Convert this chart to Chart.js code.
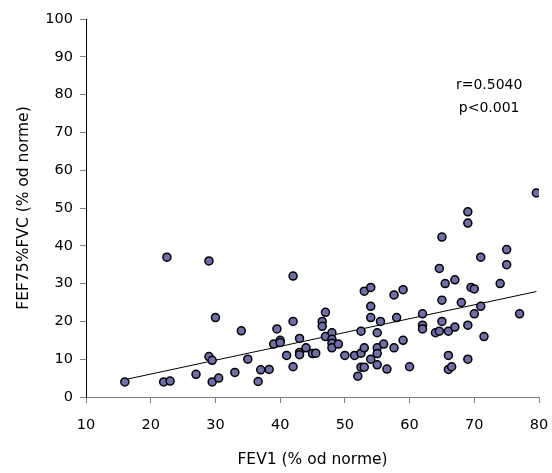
<!DOCTYPE html>
<html>
<head>
<meta charset="utf-8">
<script src="https://cdn.jsdelivr.net/npm/chart.js@4/dist/chart.umd.min.js"></script>
<style>
  html, body { margin: 0; padding: 0; background: #fff; }
  #wrap { width: 552px; height: 473px; }
</style>
</head>
<body>
<div id="wrap"><canvas id="scatter"></canvas></div>
<script>
// FEV1 (x) vs FEF75%FVC (y), both % od norme
const fev1 = [
  16, 22, 23, 22.5, 29, 30, 29, 29.5, 27, 29.5, 30.5, 33, 34, 35, 36.6, 37, 38.3,
  39, 39.5, 40, 40, 41, 42, 42, 42, 43, 43, 43, 44, 45, 45.5, 46.5, 46.5, 47, 47,
  48, 48, 48, 48, 49, 50, 51.5, 52, 52.5, 52.5, 53, 53, 52.5, 53, 54, 54, 54, 54,
  55, 55, 55, 55, 55.5, 56, 56.5, 57.6, 57.6, 58, 59, 59, 60, 62, 62, 62, 64,
  64.6, 64.6, 65, 65, 65, 65.5, 66, 66, 66, 66.5, 67, 67, 68, 69, 69, 69.5, 70,
  69, 69, 70, 71, 71, 71.5, 74, 75, 75, 77, 79.6
];
const fef75 = [
  4, 4, 4.2, 37, 36, 21, 10.7, 9.7, 6, 4, 5, 6.5, 17.5, 10, 4.1, 7.2, 7.3,
  14, 18, 15, 14.4, 11, 32, 20, 8, 15.5, 11.8, 11.2, 13, 11.5, 11.6, 20, 18.7, 22.4, 16,
  17, 15.3, 14.2, 13, 14, 11, 11, 5.5, 11.6, 7.9, 7.9, 13, 17.4, 28, 29, 24, 21, 10,
  17, 13, 11.5, 8.5, 20, 14, 7.4, 27, 13, 21, 28.4, 15, 8, 22, 19, 18, 17,
  17.4, 34, 42.3, 25.6, 20, 30, 17.4, 11, 7.3, 8, 31, 18.5, 25, 49, 46, 29, 28.6,
  19, 10, 22, 37, 24, 16, 30, 39, 35, 22, 54
];

// end points of the linear fit
const fitX = [16, 79.6];
const fitY = [4.6, 27.9];

const stats = ["r=0.5040", "p<0.001"];

const xTitle = "FEV1 (% od norme)";
const yTitle = "FEF75%FVC (% od norme)";

const points = fev1.map((x, i) => ({ x: x, y: fef75[i] }));
const fitLine = fitX.map((x, i) => ({ x: x, y: fitY[i] }));

const family = "'DejaVu Sans', Verdana, sans-serif";
const tickFont = { family: family, size: 14.5 };
const titleFont = { family: family, size: 15.5 };

// r / p text in the upper right of the plot
const statsText = {
  id: "statsText",
  afterDraw(chart) {
    const { ctx, scales } = chart;
    ctx.save();
    ctx.font = "14px " + family;
    ctx.fillStyle = "#000";
    ctx.textAlign = "center";
    ctx.textBaseline = "middle";
    const cx = scales.x.getPixelForValue(72.3);
    ctx.fillText(stats[0], cx, scales.y.getPixelForValue(82.4));
    ctx.fillText(stats[1], cx, scales.y.getPixelForValue(76.3));
    ctx.restore();
  }
};

new Chart(document.getElementById("scatter"), {
  type: "scatter",
  data: {
    datasets: [
      {
        type: "line",
        data: fitLine,
        borderColor: "#000",
        borderWidth: 1,
        pointRadius: 0,
        fill: false,
        order: 1
      },
      {
        data: points,
        backgroundColor: "rgb(110,110,168)",
        borderColor: "#000",
        borderWidth: 1.5,
        pointRadius: 4,
        order: 0
      }
    ]
  },
  options: {
    responsive: true,
    maintainAspectRatio: false,
    animation: false,
    layout: { padding: { top: 19, right: 13, left: 0, bottom: 0 } },
    plugins: {
      legend: { display: false },
      tooltip: { enabled: false }
    },
    scales: {
      x: {
        type: "linear",
        min: 10,
        max: 80,
        ticks: { stepSize: 10, color: "#000", font: tickFont, padding: 14, maxRotation: 0 },
        grid: { drawOnChartArea: false, drawTicks: true, tickLength: 6, color: "#808080" },
        border: { display: true, color: "#808080", width: 1 },
        title: { display: true, text: xTitle, color: "#000", font: titleFont, padding: { top: 0, bottom: 4 } },
        afterFit(scale) {
          scale.height = 76;
          scale.paddingLeft = 0;
          scale.paddingRight = 0;
        }
      },
      y: {
        min: 0,
        max: 100,
        ticks: { stepSize: 10, color: "#000", font: tickFont, padding: 7 },
        grid: { drawOnChartArea: false, drawTicks: true, tickLength: 6, color: "#808080" },
        border: { display: true, color: "#000", width: 1 },
        title: { display: true, text: yTitle, color: "#000", font: titleFont, padding: { top: 15, bottom: 0 } },
        afterFit(scale) {
          scale.width = 86;
          scale.paddingTop = 0;
          scale.paddingBottom = 0;
        }
      }
    }
  },
  plugins: [statsText]
});
</script>
</body>
</html>
